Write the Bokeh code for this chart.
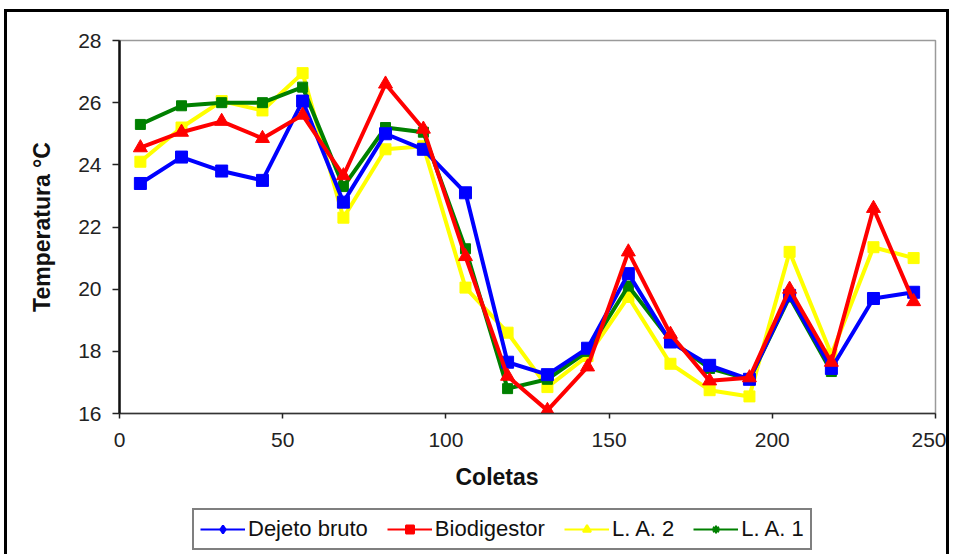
from bokeh.plotting import figure
from bokeh.models import Range1d, Legend, LegendItem, Title
from bokeh.layouts import column
from bokeh.embed import file_html
from bokeh.resources import INLINE

# ---- data ----
coletas = [6.4, 19.0, 31.3, 43.8, 56.1, 68.6, 81.5, 93.1, 106.0, 118.9,
           131.1, 143.4, 155.9, 168.8, 180.8, 193.0, 205.3, 218.1, 231.0, 243.3]
dejeto_bruto = [23.4, 24.25, 23.8, 23.5, 26.05, 22.8, 25.0, 24.5, 23.1, 17.65,
                17.25, 18.1, 20.5, 18.3, 17.55, 17.1, 19.8, 17.45, 19.7, 19.9]
biodigestor = [24.55, 25.05, 25.4, 24.85, 25.6, 23.65, 26.6, 25.15, 21.05, 17.2,
               16.1, 17.5, 21.2, 18.55, 17.05, 17.15, 20.0, 17.65, 22.6, 19.6]
la2 = [24.1, 25.2, 26.05, 25.75, 26.95, 22.3, 24.5, 24.6, 20.05, 18.6,
       16.85, 17.85, 19.75, 17.6, 16.75, 16.55, 21.2, 17.9, 21.35, 21.0]
la1 = [25.3, 25.9, 26.0, 26.0, 26.5, 23.3, 25.2, 25.05, 21.3, 16.8,
       17.1, 18.0, 20.1, 18.35, 17.45, 17.1, 19.75, 17.35]
x_ticks = [0, 50, 100, 150, 200, 250]
y_ticks = [16, 18, 20, 22, 24, 26, 28]

FONT = "Liberation Sans"
BORDER = "3px solid black"

p = figure(width=945, height=497, output_backend="svg", toolbar_location=None,
           x_range=Range1d(0, 250), y_range=Range1d(16, 28),
           min_border_left=112, min_border_right=17, min_border_top=28,
           min_border_bottom=96)
p.styles = {"margin-left": "4px", "margin-top": "9px", "border-left": BORDER,
            "border-top": BORDER, "border-right": BORDER}
p.background_fill_color = "white"
p.border_fill_color = "white"
p.outline_line_color = "#9a9a9a"
p.outline_line_width = 1.5
p.xgrid.visible = False
p.ygrid.visible = False

# axes
p.xaxis.ticker = x_ticks
p.yaxis.ticker = y_ticks
for ax in (p.xaxis, p.yaxis):
    ax.major_label_text_font = FONT
    ax.major_label_text_font_size = "21px"
    ax.major_label_text_color = "#222222"
    ax.major_tick_in = 0
    ax.minor_tick_line_color = None
    ax.major_tick_line_color = "#222222"
    ax.major_tick_line_width = 1.5
p.yaxis.axis_line_width = 2.5
p.yaxis.axis_line_color = "#111111"
p.yaxis.major_tick_out = 7
p.yaxis.major_label_standoff = 11
p.xaxis.axis_line_width = 1.5
p.xaxis.axis_line_color = "#333333"
p.xaxis.major_tick_out = 5
p.xaxis.major_label_standoff = 14
p.yaxis.axis_label = "Temperatura °C"
p.yaxis.axis_label_text_font = FONT
p.yaxis.axis_label_text_font_style = "bold"
p.yaxis.axis_label_text_font_size = "23px"
p.yaxis.axis_label_text_color = "#111111"
p.yaxis.axis_label_standoff = 20

xtitle = Title(text="Coletas", align="left", offset=336, standoff=24,
               text_font=FONT, text_font_style="bold", text_font_size="23px",
               text_color="#111111")
p.add_layout(xtitle, "below")

# series: (values, color, plot marker, plot size, legend marker)
series = {
    "Dejeto bruto": (dejeto_bruto, "#0000ff", "square", 12, "diamond"),
    "Biodigestor": (biodigestor, "#ff0000", "triangle", 14, "square"),
    "L. A. 2": (la2, "#ffff00", "square", 11, "triangle"),
    "L. A. 1": (la1, "#008000", "square", 10, "asterisk"),
}
draw_order = ["L. A. 2", "L. A. 1", "Dejeto bruto", "Biodigestor"]
for name in draw_order:
    vals, col, mk, sz, _ = series[name]
    xs = coletas[:len(vals)]
    p.line(xs, vals, line_color=col, line_width=4)
    p.scatter(xs, vals, marker=mk, size=sz, fill_color=col, line_color=col)

# ---- legend strip (same series, drawn outside its own view ranges) ----
pleg = figure(width=945, height=60, output_backend="svg", toolbar_location=None,
              x_range=Range1d(1000, 1001), y_range=Range1d(1000, 1001),
              x_axis_location=None, y_axis_location=None,
              min_border_left=0, min_border_right=0, min_border_top=0,
              min_border_bottom=0)
pleg.styles = {"margin-left": "4px", "border-left": BORDER, "border-right": BORDER}
pleg.outline_line_color = None
pleg.xgrid.visible = False
pleg.ygrid.visible = False
pleg.background_fill_color = "white"
pleg.border_fill_color = "white"

items = []
for name in ["Dejeto bruto", "Biodigestor", "L. A. 2", "L. A. 1"]:
    vals, col, mk, sz, lmk = series[name]
    xs = coletas[:len(vals)]
    lr = pleg.line(xs, vals, line_color=col, line_width=2)
    sr = pleg.scatter(xs, vals, marker=lmk, size=10, fill_color=col,
                      line_color=col, line_width=2)
    items.append(LegendItem(label=name, renderers=[lr, sr]))

legend = Legend(items=items, orientation="horizontal", location=(73, 16),
                border_line_color="black", border_line_width=2,
                background_fill_color="white", background_fill_alpha=1,
                glyph_width=45, glyph_height=20, label_standoff=3, spacing=19,
                padding=6, margin=0, label_text_font=FONT,
                label_text_font_size="22px", label_text_color="#111111")
pleg.add_layout(legend, "center")

layout = column(p, pleg, spacing=0)
open("out.html", "w").write(file_html(layout, INLINE))
